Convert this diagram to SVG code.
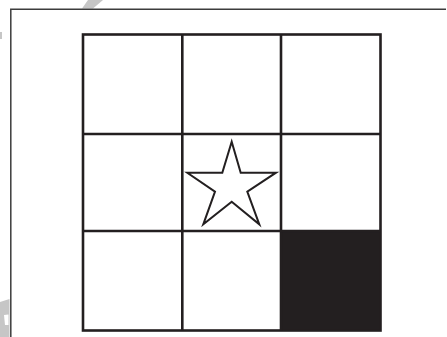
<svg xmlns="http://www.w3.org/2000/svg" width="447" height="337" viewBox="0 0 447 337">
  <style>
    .frame { fill: none; stroke: #3c3c3c; stroke-width: 1.5; }
    .grid { fill: none; stroke: #231f20; stroke-width: 2.6; }
    .mark { fill: #c6c6c6; stroke: none; }
  </style>
  <rect width="447" height="337" fill="#ffffff"/>
  <g id="watermark">
    <polygon class="mark" points="88,0 103,0 93,8.5 82,8.5"/>
    <rect class="mark" x="0" y="32" width="2" height="7"/>
    <polygon class="mark" points="0,302 9.5,299 9.5,337 0,337"/>
    <polygon points="4,315 8.5,314.5 8.5,325 5,325" fill="#ffffff"/>
  </g>
  <g id="frame">
    <path class="frame" d="M10.8,337 V9.3 H446"/>
  </g>
  <g id="cell-filled">
    <rect x="281" y="231" width="99.5" height="99.5" fill="#231f20"/>
  </g>
  <g id="grid">
    <rect class="grid" x="83" y="34.5" width="297.5" height="296"/>
    <line class="grid" x1="182.3" y1="34.5" x2="182.3" y2="330.5"/>
    <line class="grid" x1="281" y1="34.5" x2="281" y2="330.5"/>
    <line class="grid" x1="83" y1="134" x2="380.5" y2="134"/>
    <line class="grid" x1="83" y1="231" x2="380.5" y2="231"/>
  </g>
  <g id="star">
    <polygon points="231.7,141.7 240.7,172.7 276,172.7 247.3,191.7 259.3,224.3 231.7,201.7 203.3,224.3 215,191.7 187.3,172.7 222.3,172.7" fill="#ffffff" stroke="#231f20" stroke-width="2" stroke-linejoin="miter"/>
  </g>
</svg>
